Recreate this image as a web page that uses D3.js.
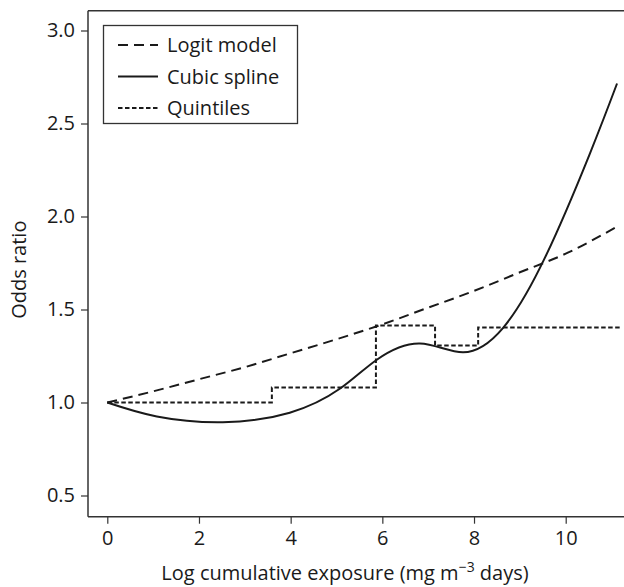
<!DOCTYPE html>
<html><head><meta charset="utf-8">
<script src="https://cdn.jsdelivr.net/npm/d3@7"></script>
<style>body{margin:0;background:#fff}svg{display:block}text{font-family:"Open Sans","Noto Sans",sans-serif;fill:#1a1a1a}</style>
</head><body>
<svg id="c" width="624" height="587"></svg>
<script>
const xTicks = [0, 2, 4, 6, 8, 10];
const yTicks = [0.5, 1.0, 1.5, 2.0, 2.5, 3.0];
const logitX = [0, 1, 2, 3, 4, 5, 6, 7, 8, 9, 10, 11.08];
const logitY = [1.0, 1.06, 1.125, 1.19, 1.265, 1.34, 1.42, 1.51, 1.60, 1.70, 1.80, 1.94];
const splineX = [0, 1.08, 2.52, 3.98, 5.08, 5.88, 6.82, 7.76, 8.63, 9.55, 10.53, 11.12];
const splineY = [1.0, 0.925, 0.894, 0.945, 1.075, 1.23, 1.317, 1.27, 1.40, 1.78, 2.34, 2.715];
const quintX = [0, 3.59, 5.86, 7.15, 8.09, 11.2];
const quintY = [1.0, 1.08, 1.414, 1.306, 1.403, 1.403];
const legendLabels = ["Logit model", "Cubic spline", "Quintiles"];

const FS = 20;
const svg = d3.select("#c");
const L = 88, T = 10.7, B = 516.7;
const x = d3.scaleLinear().domain([0, 10]).range([107.3, 565.7]);
const y = d3.scaleLinear().domain([0.5, 3.0]).range([495.5, 30.5]);

const ink = "#1a1a1a";
svg.append("line").attr("x1", L).attr("x2", 624).attr("y1", T).attr("y2", T).attr("stroke", "#333").attr("stroke-width", 1.5);
svg.append("line").attr("x1", L).attr("x2", 624).attr("y1", B).attr("y2", B).attr("stroke", "#333").attr("stroke-width", 1.5);
svg.append("line").attr("x1", L).attr("x2", L).attr("y1", T).attr("y2", B).attr("stroke", "#333").attr("stroke-width", 1.5);

const xa = svg.append("g").attr("transform", `translate(0,${B})`)
  .call(d3.axisBottom(x).tickValues(xTicks).tickSize(7).tickSizeOuter(0).tickFormat(d3.format("d")));
xa.select(".domain").remove();
xa.selectAll("line").attr("stroke", "#333").attr("stroke-width", 1.2);
xa.selectAll("text").attr("font-size", FS).attr("y", 12).attr("dy", "0.8em").style("font-family", '"Open Sans","Noto Sans",sans-serif').attr("fill", ink);

const ya = svg.append("g").attr("transform", `translate(${L},0)`)
  .call(d3.axisLeft(y).tickValues(yTicks).tickSize(7).tickSizeOuter(0).tickFormat(d3.format(".1f")));
ya.select(".domain").remove();
ya.selectAll("line").attr("stroke", "#333").attr("stroke-width", 1.2);
ya.selectAll("text").attr("font-size", FS).attr("x", -13).style("font-family", '"Open Sans","Noto Sans",sans-serif').attr("fill", ink);

const xt = svg.append("text").attr("x", 345).attr("y", 580).attr("text-anchor", "middle").attr("font-size", FS);
xt.append("tspan").text("Log cumulative exposure (mg m");
xt.append("tspan").attr("dy", -8).attr("font-size", 14).text("\u22123");
xt.append("tspan").attr("dy", 8).text(" days)");
svg.append("text").attr("transform", `translate(26,${(T + B) / 2 + 6}) rotate(-90)`).attr("text-anchor", "middle").attr("font-size", FS).text("Odds ratio");

svg.append("defs").append("clipPath").attr("id", "pc").append("rect").attr("x", L).attr("y", T).attr("width", 624 - L).attr("height", B - T);
const plot = svg.append("g").attr("clip-path", "url(#pc)");

const lineC = d3.line().x(d => x(d[0])).y(d => y(d[1])).curve(d3.curveMonotoneX);
plot.append("path").datum(logitX.map((v, i) => [v, logitY[i]])).attr("d", lineC)
  .attr("fill", "none").attr("stroke", ink).attr("stroke-width", 2).attr("stroke-dasharray", "10,6");
plot.append("path").datum(splineX.map((v, i) => [v, splineY[i]])).attr("d", d3.line().x(d => x(d[0])).y(d => y(d[1])).curve(d3.curveNatural))
  .attr("fill", "none").attr("stroke", ink).attr("stroke-width", 2);
plot.append("path").datum(quintX.map((v, i) => [v, quintY[i]])).attr("d", d3.line().x(d => x(d[0])).y(d => y(d[1])).curve(d3.curveStepAfter))
  .attr("fill", "none").attr("stroke", ink).attr("stroke-width", 2).attr("stroke-dasharray", "4.5,2.5");

const lg = svg.append("g");
lg.append("rect").attr("x", 103.5).attr("y", 25.5).attr("width", 194).attr("height", 98).attr("fill", "#fff").attr("stroke", "#333").attr("stroke-width", 1.3);
const dashes = ["10,6", null, "4.5,2.5"];
legendLabels.forEach((lab, i) => {
  const yy = 45 + i * 31.5;
  const ln = lg.append("line").attr("x1", 118).attr("x2", 158).attr("y1", yy).attr("y2", yy).attr("stroke", ink).attr("stroke-width", 2);
  if (dashes[i]) ln.attr("stroke-dasharray", dashes[i]);
  lg.append("text").attr("x", 167).attr("y", yy + 7).attr("font-size", FS).text(lab);
});
</script>
</body></html>
